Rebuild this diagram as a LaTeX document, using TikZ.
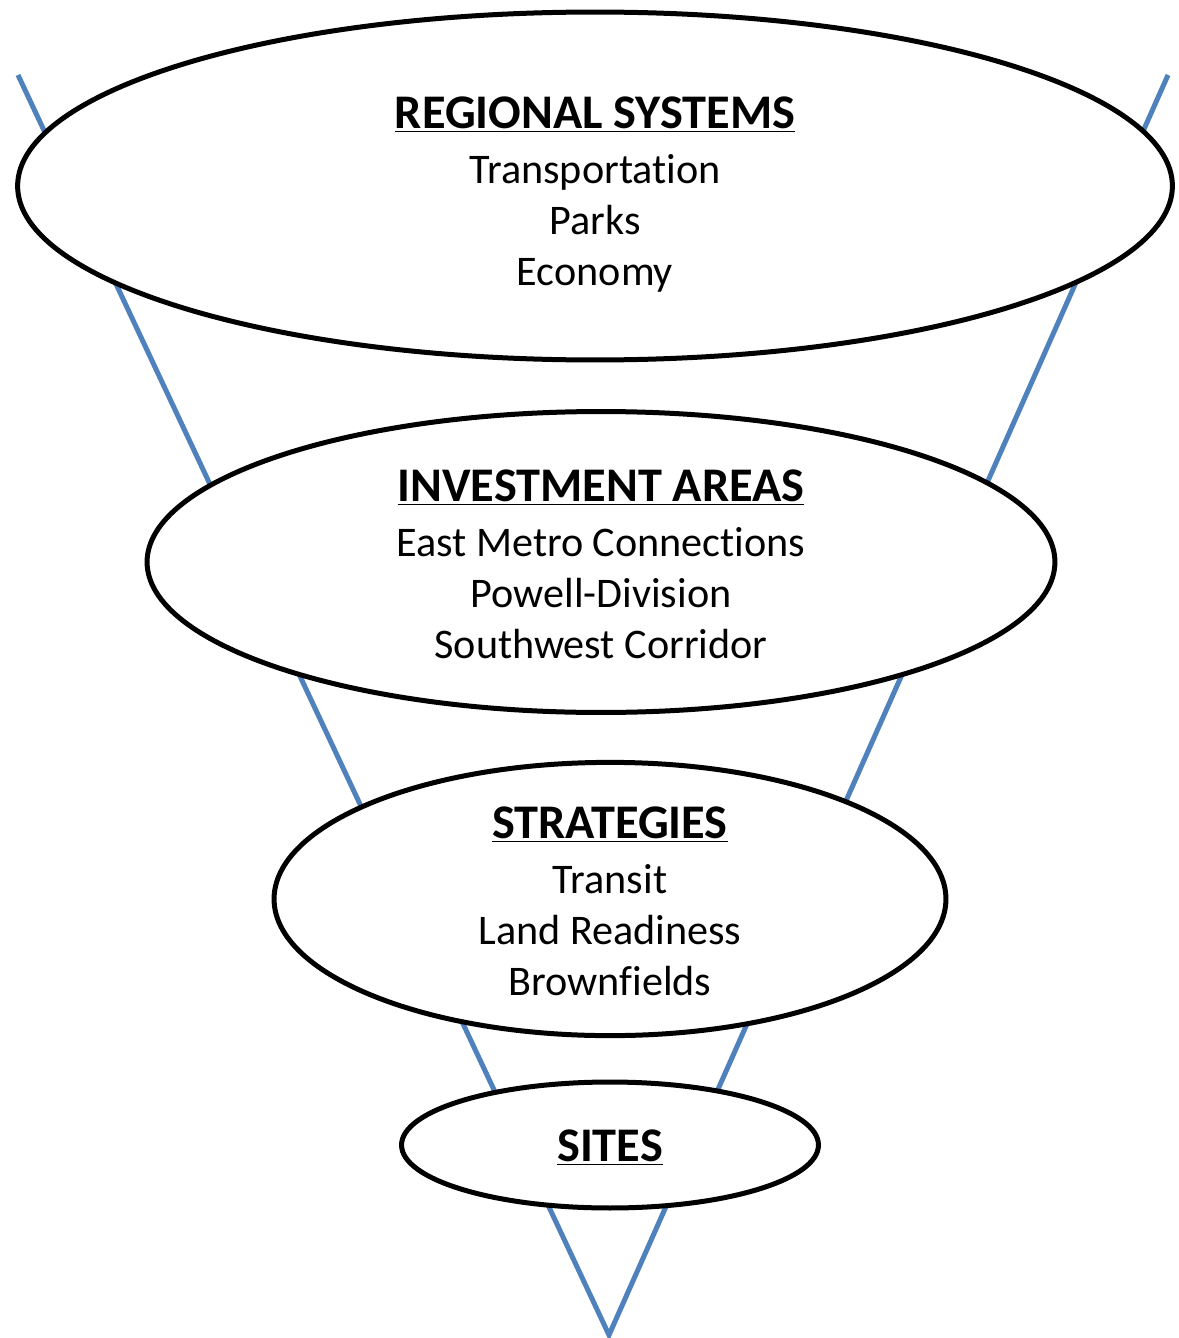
\documentclass[tikz,border=0pt]{standalone}
\usepackage{fontspec}
\setmainfont[Ligatures=NoCommon]{Carlito}
\usepackage{tikz}
\usetikzlibrary{shapes.geometric}
\usetikzlibrary{positioning}

\definecolor{funnelblue}{RGB}{79,129,189}
\newcommand{\layerhead}[2][20.8pt]{\rule{0pt}{#1}{\fontsize{27.5}{30}\selectfont\bfseries\underline{#2}}}

\begin{document}
\begin{tikzpicture}[x=0.02cm, y=-0.02cm,
layernode/.style={ellipse, draw=black, fill=white, line width=0.1cm, inner sep=0pt, align=center, font=\fontsize{24}{29}\selectfont},
funnelline/.style={draw=funnelblue, line width=0.1cm},
]
\useasboundingbox (0,0) rectangle (1179,1338);

%Coordinates
\coordinate (top_left) at (18,75);
\coordinate (top_right) at (1168,75);
\coordinate (funnel_tip) at (609,1335);

%Lines
\draw[funnelline] (top_left) -- (funnel_tip) -- (top_right);

%Nodes
\node[layernode, minimum width=23.1cm, minimum height=6.96cm] (regional_node) at (595,186) {\layerhead[27.6pt]{REGIONAL SYSTEMS}\\[2pt]Transportation\\Parks\\Economy};
\node[layernode, minimum width=18.16cm, minimum height=6.02cm] (investment_node) at (601,562) {\layerhead{INVESTMENT AREAS}\\[2pt]East Metro Connections\\Powell-Division\\Southwest Corridor};
\node[layernode, minimum width=13.44cm, minimum height=4.76cm] (strategies_node) at (610,899) {\layerhead{STRATEGIES}\\[2pt]Transit\\Land Readiness\\Brownfields};
\node[layernode, minimum width=8.34cm, minimum height=2.52cm] (sites_node) at (610,1145) {\layerhead{SITES}};

\end{tikzpicture}
\end{document}
